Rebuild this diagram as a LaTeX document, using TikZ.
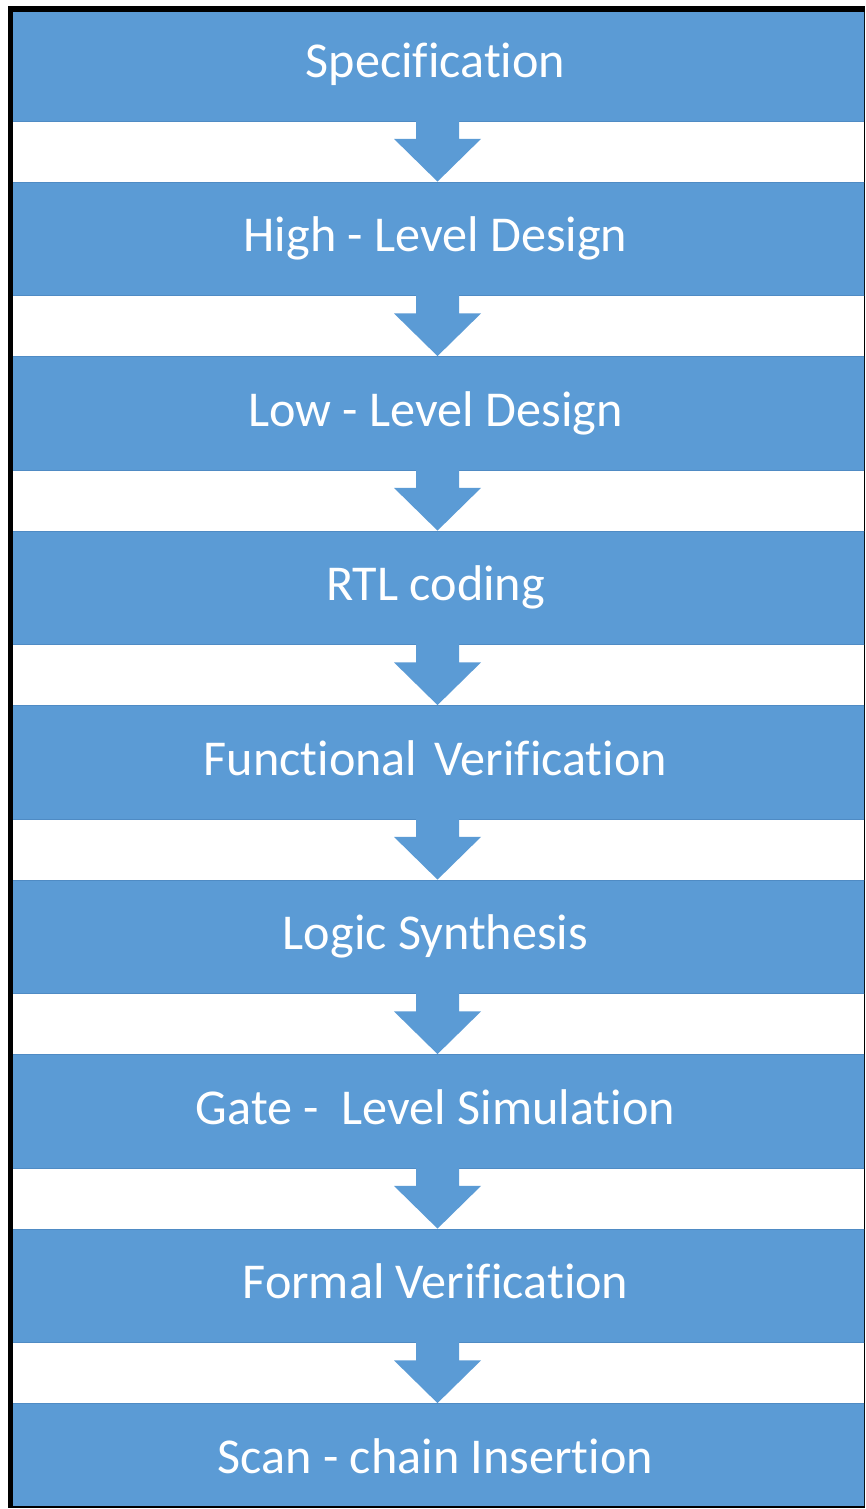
\documentclass[tikz,border=0pt]{standalone}
\usepackage{fontspec}
\setmainfont[Ligatures=NoCommon]{Carlito}
\definecolor{bandblue}{HTML}{5B9BD5}
\definecolor{bandedge}{HTML}{4F8BC4}
\begin{document}
\begin{tikzpicture}[x=1pt,y=-1pt,
  band/.style={rectangle, fill=bandblue, draw=bandedge, line width=0.8pt,
    minimum width=870pt, minimum height=113.5pt, inner sep=0pt,
    text=white, font=\fontsize{50.2}{60}\selectfont,
    text height=36pt, text depth=10pt},
  flowarrow/.style={fill=bandblue, draw=none}]
\useasboundingbox (0,0) rectangle (865,1509);
\fill[black] (8,6) rectangle (865,1508);
\fill[white] (13,13) rectangle (864,1505);
\begin{scope}
\clip (13,13) rectangle (864,1505);
\foreach \k/\txt in {1/Specification, 2/High - Level Design, 3/Low - Level Design,
  4/RTL coding, 5/Functional\hspace{6pt} Verification, 6/Logic Synthesis,
  7/{Gate - \ Level Simulation}, 8/Formal Verification, 9/Scan - chain Insertion}{
  \node[band] (s\k) at (435.5, {7.5+174.5*(\k-1)+56.75}) {\txt};
}
\foreach \k [evaluate=\k as \n using int(\k+1)] in {1,...,8}{
  \coordinate (b\k) at ([xshift=2pt]s\k.south);
  \fill[flowarrow] ([xshift=-21.5pt,yshift=1pt]b\k) -- ([xshift=-21.5pt,yshift=-17.5pt]b\k)
    -- ([xshift=-43.5pt,yshift=-17.5pt]b\k) -- ([xshift=2pt]s\n.north)
    -- ([xshift=43.5pt,yshift=-17.5pt]b\k) -- ([xshift=21.5pt,yshift=-17.5pt]b\k)
    -- ([xshift=21.5pt,yshift=1pt]b\k) -- cycle;
}
\end{scope}
\end{tikzpicture}
\end{document}
